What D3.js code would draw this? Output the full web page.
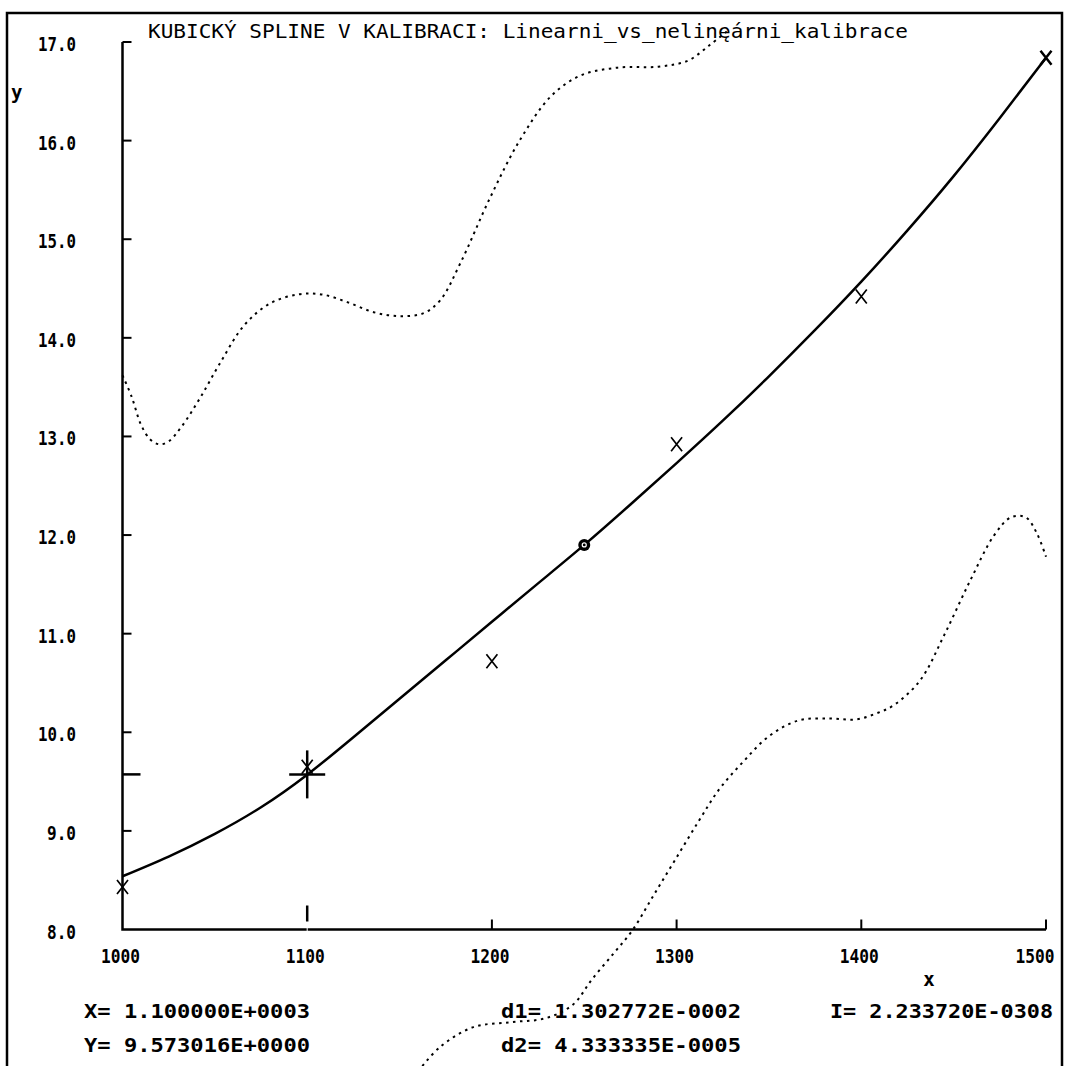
<!DOCTYPE html>
<html>
<head>
<meta charset="utf-8">
<script src="https://cdn.jsdelivr.net/npm/d3@7"></script>
<style>
  body { margin: 0; background: #fff; }
  text { font-family: "DejaVu Sans Mono", "Liberation Mono", monospace; fill: #000; }
</style>
</head>
<body>
<div id="chart-area"></div>
<script>
// values
let title = "KUBICKÝ SPLINE V KALIBRACI: Linearni_vs_nelinęárni_kalibrace";

let xTicks = [1000, 1100, 1200, 1300, 1400, 1500];
let yTicks = [8, 9, 10, 11, 12, 13, 14, 15, 16, 17];

let pointsX = [1000, 1100, 1200, 1300, 1400, 1500];
let pointsY = [8.43, 9.65, 10.72, 12.92, 14.42, 16.84];

let splineX = [1000, 1025, 1050, 1075, 1100, 1125, 1150, 1175, 1200, 1225, 1250,
  1275, 1300, 1325, 1350, 1375, 1400, 1425, 1450, 1475, 1500];
let splineY = [8.54, 8.74, 8.97, 9.24, 9.57, 9.95, 10.34, 10.73, 11.12, 11.51, 11.90,
  12.31, 12.73, 13.16, 13.61, 14.08, 14.57, 15.09, 15.64, 16.23, 16.84];

let upperX = [1000, 1005, 1010, 1015, 1020, 1025, 1032, 1042, 1053, 1066, 1080, 1095,
  1108, 1122, 1136, 1150, 1163, 1172, 1183, 1199, 1215, 1232, 1248, 1268, 1290, 1306, 1318, 1328];
let upperY = [13.62, 13.40, 13.12, 12.97, 12.92, 12.95, 13.10, 13.39, 13.75, 14.13, 14.35, 14.44,
  14.44, 14.36, 14.26, 14.22, 14.25, 14.38, 14.76, 15.42, 16.00, 16.45, 16.66, 16.74, 16.75, 16.81, 16.97, 17.12];

let lowerX = [1160, 1172, 1190, 1210, 1229, 1244, 1254, 1266, 1276, 1287, 1299, 1312, 1323,
  1336, 1350, 1366, 1383, 1397, 1408, 1418, 1432, 1445, 1459, 1472, 1481, 1489, 1495, 1500];
let lowerY = [6.56, 6.81, 7.01, 7.06, 7.10, 7.24, 7.49, 7.76, 7.99, 8.33, 8.70, 9.10, 9.42,
  9.70, 9.96, 10.12, 10.14, 10.13, 10.19, 10.28, 10.53, 10.99, 11.54, 12.00, 12.18, 12.18, 12.02, 11.78];

let knotX = [1250];
let knotY = [11.90];

let cursorX = 1100;
let cursorY = 9.573016;

let infoLeft = ["X= 1.100000E+0003", "Y= 9.573016E+0000"];
let infoMid = ["d1= 1.302772E-0002", "d2= 4.333335E-0005"];
let infoRight = ["I= 2.233720E-0308"];

let svgW = 1066;
let svgH = 1066;

let x = d3.scaleLinear().domain([1000, 1500]).range([122.5, 1046]);
let y = d3.scaleLinear().domain([8, 17]).range([929.5, 42]);

let svg = d3.select("#chart-area")
  .append("svg")
  .attr("width", svgW)
  .attr("height", svgH)

// outer frame
svg.append("rect")
  .attr("x", 7).attr("y", 13)
  .attr("width", 1055).attr("height", 1100)
  .attr("fill", "none").attr("stroke", "#000").attr("stroke-width", 2.5)

svg.append("text")
  .attr("x", 148).attr("y", 38)
  .attr("font-size", 20)
  .attr("textLength", 760)
  .attr("lengthAdjust", "spacingAndGlyphs")
  .text(title)

// axes
let axisG = svg.append("g").attr("stroke", "#000").attr("fill", "none")

axisG.append("path")
  .attr("stroke-width", 2.5)
  .attr("d", `M${x(1000)},${y(17)}V${y(8)}H${x(1500)}`)

axisG.selectAll(".ytick")
  .data(yTicks.filter(d => d > 8))
  .enter().append("line")
  .attr("class", "ytick")
  .attr("x1", x(1000)).attr("x2", x(1000) + 9)
  .attr("y1", d => y(d)).attr("y2", d => y(d))
  .attr("stroke-width", 2)

axisG.selectAll(".xtick")
  .data(xTicks.filter(d => d > 1000 && d !== cursorX))
  .enter().append("line")
  .attr("class", "xtick")
  .attr("x1", d => x(d)).attr("x2", d => x(d))
  .attr("y1", y(8)).attr("y2", y(8) - 10)
  .attr("stroke-width", 2)

// erased tick under the cursor
svg.append("line")
  .attr("x1", x(cursorX)).attr("x2", x(cursorX))
  .attr("y1", y(8) - 8).attr("y2", y(8) + 2)
  .attr("stroke", "#fff").attr("stroke-width", 1)

svg.selectAll(".ylab")
  .data(yTicks)
  .enter().append("text")
  .attr("class", "ylab")
  .attr("x", 76)
  .attr("y", d => y(d) + 9)
  .attr("text-anchor", "end")
  .attr("font-size", 20)
  .attr("font-weight", "bold")
  .attr("textLength", d => d >= 10 ? 38 : 29)
  .attr("lengthAdjust", "spacingAndGlyphs")
  .text(d => d.toFixed(1))

svg.selectAll(".xlab")
  .data(xTicks)
  .enter().append("text")
  .attr("class", "xlab")
  .attr("x", d => Math.min(x(d) - 2, 1035))
  .attr("y", 963)
  .attr("text-anchor", "middle")
  .attr("font-size", 20)
  .attr("font-weight", "bold")
  .attr("textLength", 39)
  .attr("lengthAdjust", "spacingAndGlyphs")
  .text(d => d)

svg.append("text").attr("x", 11).attr("y", 99)
  .attr("font-size", 19).attr("font-weight", "bold").text("y")
svg.append("text").attr("x", 929).attr("y", 986).attr("text-anchor", "middle")
  .attr("font-size", 19).attr("font-weight", "bold").text("x")

// curves
let line = (xs, ys, curve) => d3.line()
  .x(i => x(xs[i]))
  .y(i => y(ys[i]))
  .curve(curve)(d3.range(xs.length))

svg.append("path")
  .attr("d", line(upperX, upperY, d3.curveCatmullRom))
  .attr("fill", "none").attr("stroke", "#000")
  .attr("stroke-width", 2).attr("stroke-dasharray", "2.5,4.5")

svg.append("path")
  .attr("d", line(lowerX, lowerY, d3.curveCatmullRom))
  .attr("fill", "none").attr("stroke", "#000")
  .attr("stroke-width", 2).attr("stroke-dasharray", "2.5,4.5")

svg.append("path")
  .attr("d", line(splineX, splineY, d3.curveNatural))
  .attr("fill", "none").attr("stroke", "#000")
  .attr("stroke-width", 2.5)

// measured points
svg.selectAll(".pt")
  .data(d3.range(pointsX.length))
  .enter().append("path")
  .attr("class", "pt")
  .attr("d", i => {
    let cx = x(pointsX[i]), cy = y(pointsY[i]);
    return `M${cx - 5.5},${cy - 7}L${cx + 5.5},${cy + 7}M${cx + 5.5},${cy - 7}L${cx - 5.5},${cy + 7}`;
  })
  .attr("stroke", "#000").attr("stroke-width", i => i === pointsX.length - 1 ? 2.5 : 1.7)
  .attr("fill", "none")

svg.selectAll(".knot")
  .data(d3.range(knotX.length))
  .enter().append("circle")
  .attr("class", "knot")
  .attr("cx", i => x(knotX[i])).attr("cy", i => y(knotY[i]))
  .attr("r", 6).attr("fill", "#000")
svg.selectAll(".knotIn")
  .data(d3.range(knotX.length))
  .enter().append("circle")
  .attr("class", "knotIn")
  .attr("cx", i => x(knotX[i])).attr("cy", i => y(knotY[i]))
  .attr("r", 2).attr("fill", "none").attr("stroke", "#fff").attr("stroke-width", 1.2)

// cursor cross and its marks on the axes
let cur = svg.append("g").attr("stroke", "#000").attr("stroke-width", 2.5)
cur.append("line")
  .attr("x1", x(cursorX) - 18).attr("x2", x(cursorX) + 18)
  .attr("y1", y(cursorY)).attr("y2", y(cursorY))
cur.append("line")
  .attr("x1", x(cursorX)).attr("x2", x(cursorX))
  .attr("y1", y(cursorY) - 24).attr("y2", y(cursorY) + 24)
cur.append("line")
  .attr("x1", x(1000)).attr("x2", x(1000) + 18)
  .attr("y1", y(cursorY)).attr("y2", y(cursorY))
cur.append("line")
  .attr("x1", x(cursorX)).attr("x2", x(cursorX))
  .attr("y1", y(8) - 24).attr("y2", y(8) - 8)

// readout
let info = (lines, x0, len) => svg.selectAll(null)
  .data(lines)
  .enter().append("text")
  .attr("x", x0)
  .attr("y", (d, i) => 1018 + i * 34)
  .attr("font-size", 20)
  .attr("font-weight", "bold")
  .attr("textLength", len)
  .attr("lengthAdjust", "spacingAndGlyphs")
  .text(d => d)

info(infoLeft, 84, 226)
info(infoMid, 501, 240)
info(infoRight, 830, 223)
</script>
</body>
</html>
